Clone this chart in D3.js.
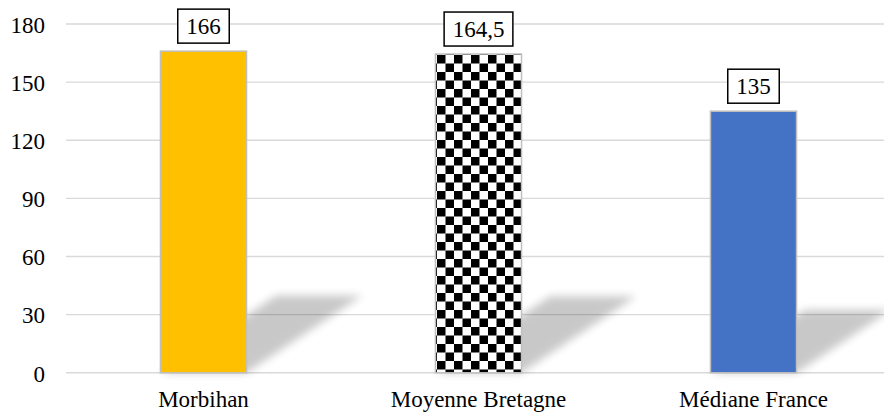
<!DOCTYPE html>
<html><head><meta charset="utf-8">
<script src="https://cdn.jsdelivr.net/npm/d3@7"></script>
</head><body style="margin:0;padding:0;background:#fff;overflow:hidden">
<script>
const categories = ["Morbihan", "Moyenne Bretagne", "Médiane France"];
const values = [166, 164.5, 135];
const valueLabels = ["166", "164,5", "135"];
const yTicks = [0, 30, 60, 90, 120, 150, 180];
const fills = ["#ffc000", "url(#checker)", "#4472c4"];

const FONT = '"Liberation Serif", Tinos, "Times New Roman", Times, serif';
const W = 884, H = 412;
const svg = d3.select("body").append("svg").attr("width", W).attr("height", H)
  .style("display", "block").style("font-family", FONT, "important");

const defs = svg.append("defs");
const pat = defs.append("pattern").attr("id", "checker").attr("patternUnits", "userSpaceOnUse")
  .attr("width", 17).attr("height", 17).attr("x", 437).attr("y", 55);
pat.append("rect").attr("width", 17).attr("height", 17).attr("fill", "#fff");
pat.append("rect").attr("width", 8.5).attr("height", 8.5).attr("fill", "#000");
pat.append("rect").attr("x", 8.5).attr("y", 8.5).attr("width", 8.5).attr("height", 8.5).attr("fill", "#000");
defs.append("filter").attr("id", "blur").attr("x", "-50%").attr("y", "-50%").attr("width", "200%").attr("height", "200%")
  .append("feGaussianBlur").attr("stdDeviation", 4);

const y = d3.scaleLinear().domain([0, 180]).range([372.8, 24]);
const x = d3.scaleBand().domain(categories).range([66, 891]).paddingInner(0.687).paddingOuter(0.3435);

function serif(sel) {
  sel.style("font-family", FONT, "important").style("font-size", "23px", "important").attr("fill", "#000");
}

// gridlines
svg.append("g").selectAll("line").data(yTicks).join("line")
  .attr("x1", 66).attr("x2", W).attr("y1", d => y(d)).attr("y2", d => y(d))
  .attr("stroke", "#d9d9d9").attr("stroke-width", 1.4);

// y axis labels
const yAxis = d3.axisLeft(y).tickValues(yTicks).tickSize(0).tickPadding(0);
const ga = svg.append("g").attr("transform", "translate(45,0)").call(yAxis);
ga.select(".domain").remove();
ga.attr("font-family", FONT).attr("font-size", 23);
ga.selectAll("text").call(serif).attr("dy", "0.36em");

// shadows
const data = categories.map((c, i) => ({c, v: values[i], lab: valueLabels[i], fill: fills[i]}));
svg.append("g").selectAll("path").data(data).join("path")
  .attr("d", d => {
    const x0 = x(d.c), x1 = x0 + x.bandwidth(), b = y(0), h = y(0) - y(d.v);
    const dx = 0.36 * h, dy = 0.24 * h;
    return `M${x0},${b}L${x1},${b}L${x1 + dx},${b - dy}L${x0 + dx},${b - dy}Z`;
  })
  .attr("fill", "#000").attr("opacity", 0.21).attr("filter", "url(#blur)");

// bars
svg.append("g").selectAll("rect").data(data).join("rect")
  .attr("x", d => x(d.c)).attr("width", x.bandwidth())
  .attr("y", d => y(d.v)).attr("height", d => y(0) - y(d.v))
  .attr("fill", d => d.fill).attr("stroke", "#bfbfbf").attr("stroke-width", 1.5);

// value labels with boxes
const lg = svg.append("g").selectAll("g").data(data).join("g");
lg.each(function(d) {
  const g = d3.select(this);
  const cx = x(d.c) + x.bandwidth() / 2;
  const bottom = y(d.v) - 8;
  g.append("text").attr("x", cx).attr("y", bottom - 9).attr("text-anchor", "middle")
    .call(serif).text(d.lab);
  const bw = d.lab.length * 11.5 - (d.lab.includes(",") ? 5.75 : 0);
  g.insert("rect", "text").attr("x", cx - bw / 2 - 8.5).attr("y", bottom - 34).attr("width", bw + 17).attr("height", 34)
    .attr("fill", "#fff").attr("stroke", "#000").attr("stroke-width", 1.5);
});

// x axis labels
const xAxis = d3.axisBottom(x).tickSize(0).tickPadding(0);
const gx = svg.append("g").attr("transform", "translate(0,391)").call(xAxis);
gx.select(".domain").remove();
gx.attr("font-family", FONT).attr("font-size", 23);
gx.selectAll("text").call(serif).attr("dy", "0.71em");
</script>
</body></html>
